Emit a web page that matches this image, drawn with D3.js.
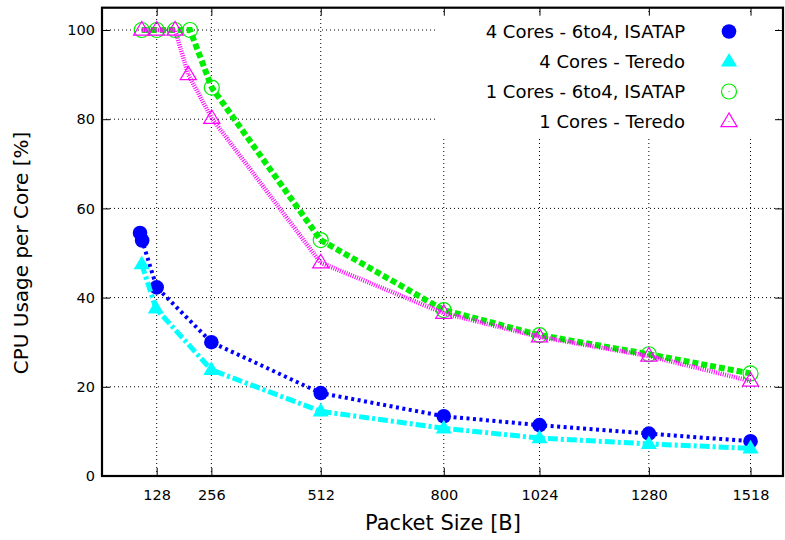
<!DOCTYPE html>
<html><head><meta charset="utf-8">
<script src="https://cdn.jsdelivr.net/npm/d3@7"></script>
<style>
html,body{margin:0;padding:0;background:#fff;}
svg{display:block;}
text{font-family:"DejaVu Sans",sans-serif;fill:#000;}
</style></head><body>
<svg id="chart" width="785" height="540"></svg>
<script>
// ---- data ----
const xTicks = [128, 256, 512, 800, 1024, 1280, 1518];
const yTicks = [0, 20, 40, 60, 80, 100];

const blueX = [89, 94, 128, 256, 512, 800, 1024, 1280, 1518];
const blueY = [54.5, 52.8, 42.3, 30.0, 18.6, 13.4, 11.4, 9.5, 7.8];

const cyanX = [93, 126, 256, 512, 800, 1024, 1280, 1518];
const cyanY = [47.5, 37.6, 23.8, 14.5, 10.7, 8.5, 7.2, 6.2];

const greenX = [93, 128, 171, 206, 257, 512, 800, 1024, 1280, 1518];
const greenY = [100, 100, 100, 100, 87.1, 52.9, 37.2, 31.6, 27.3, 23.0];

const pinkX = [93, 128, 171, 202, 257, 512, 800, 1024, 1280, 1518];
const pinkY = [100, 100, 100, 90.0, 80.2, 47.8, 36.5, 31.2, 26.9, 21.3];

const labels = ["4 Cores - 6to4, ISATAP", "4 Cores - Teredo", "1 Cores - 6to4, ISATAP", "1 Cores - Teredo"];

// ---- chart ----
const svg = d3.select("#chart");
const x = d3.scaleLinear().domain([0, 1594]).range([102, 783]);
const y = d3.scaleLinear().domain([0, 105]).range([476, 7.7]);

const series = [
  {xs: blueX, ys: blueY, color: "#0000ff", width: 4, dash: "3,3.5", marker: "fcircle"},
  {xs: cyanX, ys: cyanY, color: "#00ffff", width: 5, dash: "10,3,3,3", marker: "ftri"},
  {xs: greenX, ys: greenY, color: "#00ee00", width: 6, dash: "6,3", marker: "ocircle"},
  {xs: pinkX, ys: pinkY, color: "#ff00ff", width: 4.5, dash: "1,1.3", marker: "otri"}
];

// grid
const grid = svg.append("g");
xTicks.forEach(t => grid.append("line").attr("x1", x(t)).attr("x2", x(t)).attr("y1", y(0)).attr("y2", y(105))
  .attr("stroke", "#000").attr("stroke-width", 1).attr("stroke-dasharray", "1,3"));
yTicks.filter(t => t > 0).forEach(t => grid.append("line").attr("x1", x(0)).attr("x2", x(1594)).attr("y1", y(t)).attr("y2", y(t))
  .attr("stroke", "#000").attr("stroke-width", 1).attr("stroke-dasharray", "1,3"));

// legend background covers grid
svg.append("rect").attr("x", 438).attr("y", 14).attr("width", 340).attr("height", 123).attr("fill", "#fff");

// axes (ticks inward)
const axB = d3.axisBottom(x).tickValues(xTicks).tickSize(-8).tickPadding(14).tickFormat(d3.format("d"));
const axL = d3.axisLeft(y).tickValues(yTicks).tickSize(-8).tickPadding(7).tickFormat(d3.format("d"));
const axT = d3.axisTop(x).tickValues(xTicks).tickSize(-8).tickFormat("");
const axR = d3.axisRight(y).tickValues(yTicks).tickSize(-8).tickFormat("");
function styleAxis(g){ g.select(".domain").remove(); g.selectAll("line").attr("stroke", "#000").attr("stroke-width", 1);
  g.selectAll("text").style("font-size", "14.5px").attr("fill", "#000"); }
svg.append("g").attr("transform", `translate(0,${y(0)})`).call(axB).call(styleAxis);
svg.append("g").attr("transform", `translate(${x(0)},0)`).call(axL).call(styleAxis);
svg.append("g").attr("transform", `translate(0,${y(105)})`).call(axT).call(styleAxis);
svg.append("g").attr("transform", `translate(${x(1594)},0)`).call(axR).call(styleAxis);

// frame
svg.append("rect").attr("x", x(0)).attr("y", y(105)).attr("width", x(1594) - x(0)).attr("height", y(0) - y(105))
  .attr("fill", "none").attr("stroke", "#000").attr("stroke-width", 2.2);

// markers
function drawMarker(g, type, cx, cy, color){
  if (type === "fcircle") g.append("circle").attr("cx", cx).attr("cy", cy).attr("r", 7.3).attr("fill", color);
  else if (type === "ocircle") {
    g.append("circle").attr("cx", cx).attr("cy", cy).attr("r", 7.5).attr("fill", "none").attr("stroke", color).attr("stroke-width", 1.2);
    g.append("rect").attr("x", cx - 0.5).attr("y", cy - 0.5).attr("width", 1).attr("height", 1).attr("fill", color);
  } else {
    const s = 8.5;
    const pts = [[cx, cy - s], [cx - s * 0.95, cy + s * 0.6], [cx + s * 0.95, cy + s * 0.6]];
    const p = g.append("path").attr("d", d3.line()(pts) + "Z");
    if (type === "ftri") p.attr("fill", color);
    else {
      p.attr("fill", "none").attr("stroke", color).attr("stroke-width", 1.2);
      g.append("rect").attr("x", cx - 0.5).attr("y", cy - 0.5).attr("width", 1).attr("height", 1).attr("fill", color);
    }
  }
}

const line = d3.line().x(d => x(d[0])).y(d => y(d[1]));
const plot = svg.append("g");
series.forEach(s => {
  const pts = s.xs.map((v, i) => [v, s.ys[i]]);
  plot.append("path").attr("d", line(pts)).attr("fill", "none").attr("stroke", s.color)
    .attr("stroke-width", s.width).attr("stroke-dasharray", s.dash);
  pts.forEach(p => drawMarker(plot, s.marker, x(p[0]), y(p[1]), s.color));
});

// legend
const leg = svg.append("g");
series.forEach((s, i) => {
  const ly = 31.5 + i * 30;
  leg.append("text").attr("x", 685).attr("y", ly).attr("dy", "0.36em").attr("text-anchor", "end")
    .style("font-size", "18px").text(labels[i]);
  drawMarker(leg, s.marker, 729, ly, s.color);
});

// axis titles
svg.append("text").attr("x", 443).attr("y", 530).attr("text-anchor", "middle").style("font-size", "21px").text("Packet Size [B]");
svg.append("text").attr("transform", "translate(28,253) rotate(-90)").attr("text-anchor", "middle").style("font-size", "20px")
  .text("CPU Usage per Core [%]");
</script>
</body></html>
